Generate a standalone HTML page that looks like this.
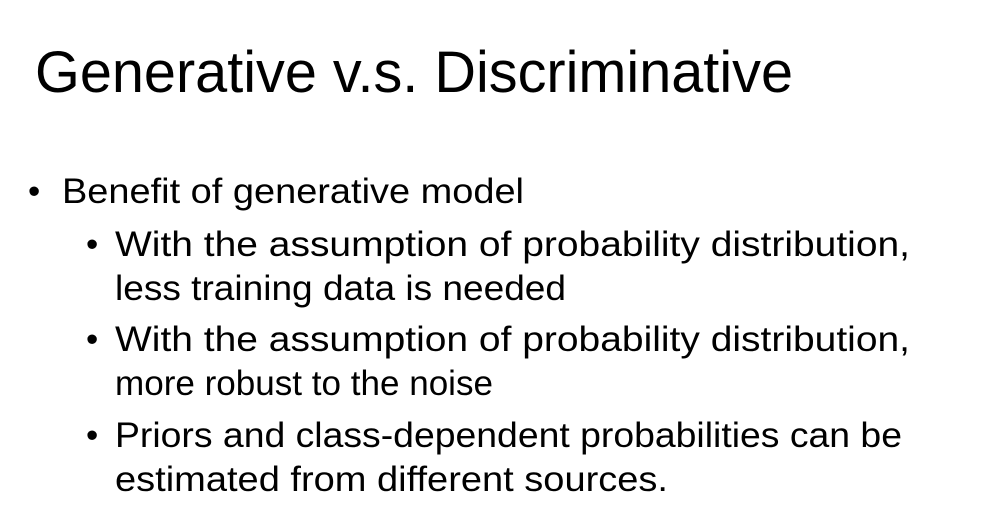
<!DOCTYPE html>
<html><head><meta charset="utf-8"><style>
html,body{margin:0;padding:0;background:#fff;width:988px;height:513px;overflow:hidden}
svg{display:block}
text{font-family:"Liberation Sans",sans-serif;fill:#000}
</style></head><body>
<svg width="988" height="513">
<text x="35" y="92" font-size="58" textLength="758" lengthAdjust="spacingAndGlyphs">Generative v.s. Discriminative</text>
<g font-size="35">
<text x="28" y="203">•</text>
<text x="62" y="203" textLength="462" lengthAdjust="spacingAndGlyphs">Benefit of generative model</text>
<text x="86" y="256">•</text>
<text x="115" y="256" textLength="795" lengthAdjust="spacingAndGlyphs">With the assumption of probability distribution,</text>
<text x="115" y="300" textLength="451" lengthAdjust="spacingAndGlyphs">less training data is needed</text>
<text x="86" y="351">•</text>
<text x="115" y="351" textLength="795" lengthAdjust="spacingAndGlyphs">With the assumption of probability distribution,</text>
<text x="115" y="395" textLength="378" lengthAdjust="spacingAndGlyphs">more robust to the noise</text>
<text x="86" y="447">•</text>
<text x="115" y="447" textLength="787" lengthAdjust="spacingAndGlyphs">Priors and class-dependent probabilities can be</text>
<text x="115" y="491" textLength="553" lengthAdjust="spacingAndGlyphs">estimated from different sources.</text>
</g>
</svg>
</body></html>
